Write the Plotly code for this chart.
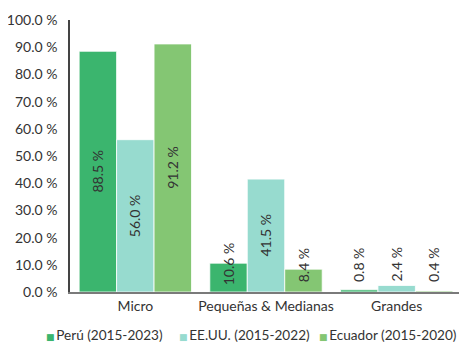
import plotly.graph_objects as go

categories = ["Micro", "Pequeñas & Medianas", "Grandes"]
series_names = ["Perú (2015-2023)", "EE.UU. (2015-2022)", "Ecuador (2015-2020)"]
peru = [88.5, 10.6, 0.8]
eeuu = [56.0, 41.5, 2.4]
ecuador = [91.2, 8.4, 0.4]
colors = ["#3BB56E", "#97DBCF", "#84C673"]
y_ticks = [0, 10, 20, 30, 40, 50, 60, 70, 80, 90, 100]

series = [peru, eeuu, ecuador]
x_pos = list(range(len(categories)))
bargap = 0.14
bw = (1 - bargap) / len(series)

FONT = "Lato"
TXT = "#333333"
# page body has an 8px margin; size the figure so it fills the 467x350 window
W, H = 459, 342
ML, MR, MT, MB = 62, 5, 12, 58
pw = W - ML - MR
ph = H - MT - MB

fig = go.Figure()
for i, (name, vals, col) in enumerate(zip(series_names, series, colors)):
    fig.add_trace(go.Bar(
        x=x_pos, y=vals, name=name,
        marker=dict(color=col, line=dict(color="white", width=0.8)),
        hoverinfo="skip", showlegend=False,
    ))
    off = (i - (len(series) - 1) / 2) * bw
    for xi, v in zip(x_pos, vals):
        fig.add_annotation(
            x=xi + off, y=max(v / 2, 10.0), xref="x", yref="y",
            text=f"{v:.1f} %", textangle=-90, showarrow=False,
            font=dict(family=FONT, size=14, color=TXT),
        )

# legend drawn as text items on one line
legend_px = [36, 169, 309]
legend_y = -43 / ph
for name, col, px in zip(series_names, colors, legend_px):
    fig.add_annotation(
        x=(px - ML) / pw, y=legend_y, xref="paper", yref="paper",
        xanchor="left", yanchor="middle", showarrow=False,
        text=f"<span style='color:{col};font-size:9px;font-family:DejaVu Sans'>■</span>\u2009{name}",
        font=dict(family=FONT, size=13.6, color=TXT),
    )

fig.update_layout(
    width=W, height=H,
    margin=dict(l=ML, r=MR, t=MT, b=MB, autoexpand=False),
    plot_bgcolor="white", paper_bgcolor="white",
    barmode="group", bargap=bargap, bargroupgap=0,
    font=dict(family=FONT, size=14, color=TXT),
    showlegend=False,
    xaxis=dict(
        tickmode="array", tickvals=x_pos, ticktext=categories,
        range=[-0.5, 2.5], showline=True, linecolor="#7a7a7a", linewidth=2,
        ticks="", showgrid=False, zeroline=False, automargin=False,
        tickfont=dict(family=FONT, size=14, color=TXT),
    ),
    yaxis=dict(
        range=[0, 100], tickmode="array", tickvals=y_ticks,
        ticktext=[f"{t:.1f} %" for t in y_ticks],
        showline=True, linecolor="#444444", linewidth=1.5,
        showgrid=False, zeroline=False, ticks="", automargin=False,
        ticklabelstandoff=8,
        tickfont=dict(family=FONT, size=14, color=TXT),
    ),
)

fig.write_html("out.html")
